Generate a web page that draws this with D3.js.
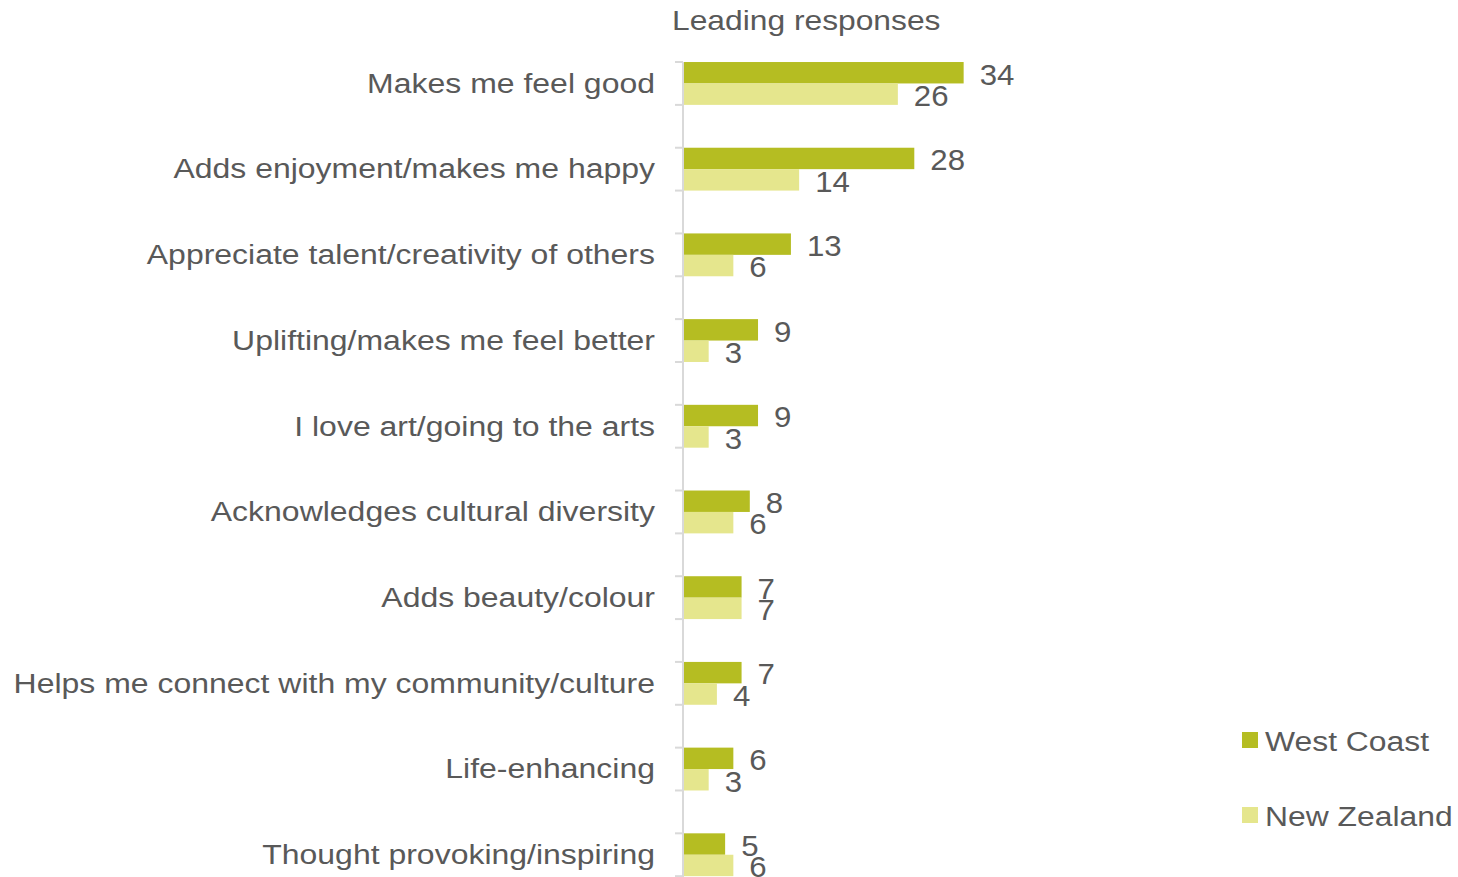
<!DOCTYPE html>
<html>
<head>
<meta charset="utf-8">
<script src="https://cdn.jsdelivr.net/npm/d3@7"></script>
<style>
  html, body { margin: 0; padding: 0; background: #fff; }
  svg { display: block; font-family: "Liberation Sans", Arial, sans-serif; }
</style>
</head>
<body>
<svg id="chart" width="1458" height="877"></svg>
<script>
const categories = [
  "Makes me feel good",
  "Adds enjoyment/makes me happy",
  "Appreciate talent/creativity of others",
  "Uplifting/makes me feel better",
  "I love art/going to the arts",
  "Acknowledges cultural diversity",
  "Adds beauty/colour",
  "Helps me connect with my community/culture",
  "Life-enhancing",
  "Thought provoking/inspiring"
];
const seriesNames = ["West Coast", "New Zealand"];
const westCoast = [34, 28, 13, 9, 9, 8, 7, 7, 6, 5];
const newZealand = [26, 14, 6, 3, 3, 6, 7, 4, 3, 6];
const title = "Leading responses";
const colors = ["#b5bd22", "#e5e68d"];
const textColor = "#595959";

const svg = d3.select("#chart");

const x = d3.scaleLinear().domain([0, 40]).range([684, 1013]);
const y = d3.scaleBand().domain(categories).range([40.6, 897.6]).paddingInner(0.5).paddingOuter(0.25);
const ys = d3.scaleBand().domain(seriesNames).range([0, y.bandwidth()]);

const data = categories.map((c, i) => ({
  cat: c,
  vals: [
    { s: seriesNames[0], v: westCoast[i], color: colors[0] },
    { s: seriesNames[1], v: newZealand[i], color: colors[1] }
  ]
}));

// Title
svg.append("g").attr("transform", "translate(672,30) scale(1.115,1)")
  .append("text").text(title)
  .attr("font-size", 28.5).attr("fill", textColor);

// Axis line and ticks
const axisX = 683;
svg.append("line")
  .attr("x1", axisX).attr("x2", axisX)
  .attr("y1", y(categories[0])).attr("y2", 877)
  .attr("stroke", "#d9d9d9").attr("stroke-width", 2);

const tickYs = [];
categories.forEach(c => {
  tickYs.push(y(c));
  tickYs.push(y(c) + y.bandwidth());
});
svg.selectAll("line.tick").data(tickYs).join("line")
  .attr("class", "tick")
  .attr("x1", axisX - 8).attr("x2", axisX)
  .attr("y1", d => d).attr("y2", d => d)
  .attr("stroke", "#d9d9d9").attr("stroke-width", 2);

// Bars
const groups = svg.selectAll("g.cat").data(data).join("g")
  .attr("class", "cat")
  .attr("transform", d => `translate(0,${y(d.cat)})`);

groups.selectAll("rect").data(d => d.vals).join("rect")
  .attr("x", x(0))
  .attr("y", d => ys(d.s))
  .attr("width", d => x(d.v) - x(0))
  .attr("height", ys.bandwidth())
  .attr("fill", d => d.color);

// Data labels
groups.selectAll("g.lbl").data(d => d.vals).join("g")
  .attr("class", "lbl")
  .attr("transform", d => `translate(${x(d.v) + 16},${ys(d.s) + ys.bandwidth() / 2 + 1}) scale(1.04,1)`)
  .append("text")
  .attr("dominant-baseline", "central")
  .attr("font-size", 30)
  .attr("fill", textColor)
  .text(d => d.v);

// Category labels
svg.selectAll("g.catlbl").data(categories).join("g")
  .attr("class", "catlbl")
  .attr("transform", d => `translate(655,${y(d) + y.bandwidth() / 2 - 0.5}) scale(1.142,1)`)
  .append("text")
  .attr("text-anchor", "end")
  .attr("dominant-baseline", "central")
  .attr("font-size", 28)
  .attr("fill", textColor)
  .text(d => d);

// Legend
const legend = svg.selectAll("g.leg").data(seriesNames).join("g")
  .attr("class", "leg")
  .attr("transform", (d, i) => `translate(1242,${732 + i * 75})`);
legend.append("rect")
  .attr("width", 16).attr("height", 16)
  .attr("fill", (d, i) => colors[i]);
legend.append("g").attr("transform", "translate(23,19) scale(1.13,1)")
  .append("text")
  .attr("font-size", 28.2)
  .attr("fill", textColor)
  .text(d => d);
</script>
</body>
</html>
